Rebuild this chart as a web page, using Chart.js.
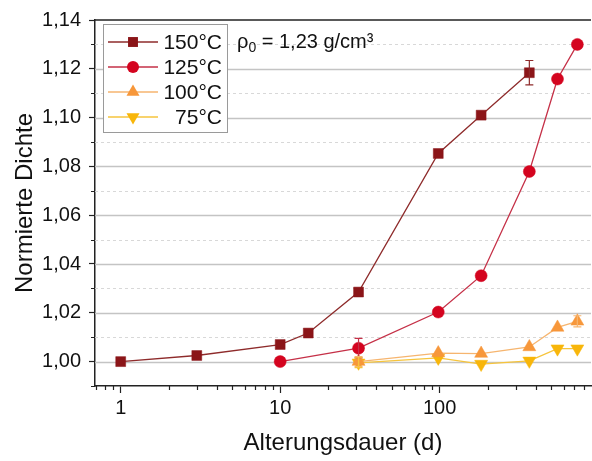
<!DOCTYPE html>
<html>
<head>
<meta charset="utf-8">
<script src="https://cdn.jsdelivr.net/npm/chart.js@4/dist/chart.umd.min.js"></script>
<style>
  html, body { margin: 0; background: #fff; }
  #wrap { width: 592px; height: 461px; }
</style>
</head>
<body>
<div id="wrap"><canvas id="c"></canvas></div>
<script>
const seriesNames = ["150°C", "125°C", "100°C", "75°C"]

const days150 = [1, 3, 10, 15, 31, 98, 182, 365]
const dens150 = [1.000, 1.0025, 1.007, 1.0117, 1.0285, 1.0853, 1.101, 1.1184]
const err150 = [0, 0, 0, 0, 0, 0, 0, 0.005]

const days125 = [10, 31, 98, 182, 365, 548, 730]
const dens125 = [1.000, 1.0055, 1.0203, 1.0352, 1.0779, 1.1158, 1.130]
const err125 = [0, 0.004, 0, 0, 0, 0, 0]

const days100 = [31, 98, 182, 365, 548, 730]
const dens100 = [1.000, 1.0035, 1.0033, 1.006, 1.014, 1.0165]
const err100 = [0.002, 0, 0, 0, 0, 0.0023]

const days75 = [31, 98, 182, 365, 548, 730]
const dens75 = [0.9995, 1.0015, 0.999, 1.0003, 1.0053, 1.0053]
const err75 = [0.002, 0, 0, 0, 0, 0]

const yTicks = [1.00, 1.02, 1.04, 1.06, 1.08, 1.10, 1.12, 1.14]
const yMinor = [0.99, 1.01, 1.03, 1.05, 1.07, 1.09, 1.11, 1.13]
const xTicks = [1, 10, 100]
const xMinor = [0.7, 0.8, 0.9, 2, 3, 4, 5, 6, 7, 8, 9, 20, 30, 40, 50, 60, 70, 80, 90, 200, 300, 400, 500, 600, 700, 800]

const FONT = "'Liberation Sans', Arial, sans-serif"

const pts = (xs, ys) => xs.map((x, i) => ({ x, y: ys[i] }))

const styles = [
  { line: "#8e2b2b", fill: "#8b1518", shape: "rect", r: 7, rot: 0, err: err150 },
  { line: "#c53047", fill: "#d4041f", shape: "circle", r: 6, rot: 0, err: err125 },
  { line: "#f6b56f", fill: "#f7973a", shape: "triangle", r: 7.5, rot: 0, err: err100 },
  { line: "#f6c43c", fill: "#f8b60a", shape: "triangle", r: 7.5, rot: 180, err: err75 }
]
const allData = [pts(days150, dens150), pts(days125, dens125), pts(days100, dens100), pts(days75, dens75)]

const datasets = allData.map((d, i) => ({
  label: seriesNames[i],
  data: d,
  showLine: true,
  borderColor: styles[i].line,
  borderWidth: 1.3,
  pointStyle: styles[i].shape,
  rotation: styles[i].rot,
  pointRadius: styles[i].r,
  pointBackgroundColor: styles[i].fill,
  pointBorderColor: styles[i].fill,
  pointBorderWidth: 0.5
}))

function marker(ctx, s, x, y) {
  ctx.fillStyle = s.fill
  ctx.beginPath()
  if (s.shape === "rect") {
    const h = s.r * Math.SQRT1_2
    ctx.rect(x - h, y - h, 2 * h, 2 * h)
  } else if (s.shape === "circle") {
    ctx.arc(x, y, s.r, 0, Math.PI * 2)
  } else {
    const dir = s.rot ? -1 : 1
    const r = s.r
    ctx.moveTo(x, y - dir * r)
    ctx.lineTo(x - r * 0.866, y + dir * r * 0.5)
    ctx.lineTo(x + r * 0.866, y + dir * r * 0.5)
    ctx.closePath()
  }
  ctx.fill()
}

const extras = {
  id: "extras",
  beforeDatasetsDraw(chart) {
    const { ctx, chartArea: a, scales: { y } } = chart
    ctx.save()
    for (let k = 100; k < 114; k++) {
      const py = Math.round(y.getPixelForValue(k / 100)) + 0.5
      ctx.beginPath()
      if (k % 2 === 0) {
        ctx.setLineDash([])
        ctx.strokeStyle = "#c4c4c4"
        ctx.lineWidth = 1.4
      } else {
        ctx.setLineDash([3, 3])
        ctx.strokeStyle = "#d8d8d8"
        ctx.lineWidth = 1
      }
      ctx.moveTo(a.left, py)
      ctx.lineTo(a.right, py)
      ctx.stroke()
    }
    ctx.restore()
  },
  afterDatasetsDraw(chart) {
    const { ctx, scales: { x, y } } = chart
    ctx.save()
    ctx.lineWidth = 1.2
    allData.forEach((d, i) => {
      ctx.strokeStyle = styles[i].line
      d.forEach((p, j) => {
        const e = styles[i].err[j]
        if (!e) return
        const px = x.getPixelForValue(p.x)
        const y1 = y.getPixelForValue(p.y + e)
        const y2 = y.getPixelForValue(p.y - e)
        ctx.beginPath()
        ctx.moveTo(px, y1); ctx.lineTo(px, y2)
        ctx.moveTo(px - 4, y1); ctx.lineTo(px + 4, y1)
        ctx.moveTo(px - 4, y2); ctx.lineTo(px + 4, y2)
        ctx.stroke()
      })
    })
    ctx.restore()
  },
  afterDraw(chart) {
    const { ctx, chartArea: a, scales: { x, y } } = chart
    ctx.save()
    // top frame
    ctx.strokeStyle = "#222"
    ctx.lineWidth = 1.5
    ctx.beginPath()
    ctx.moveTo(a.left, a.top)
    ctx.lineTo(a.right, a.top)
    ctx.stroke()
    // minor ticks
    ctx.lineWidth = 1.2
    ctx.beginPath()
    xMinor.forEach(v => {
      const px = Math.round(x.getPixelForValue(v)) + 0.5
      ctx.moveTo(px, a.bottom)
      ctx.lineTo(px, a.bottom + 4)
    })
    yMinor.forEach(v => {
      const py = Math.round(y.getPixelForValue(v)) + 0.5
      ctx.moveTo(a.left, py)
      ctx.lineTo(a.left - 4, py)
    })
    ctx.stroke()

    // legend
    const lx = 103, ly = 24, lw = 124, lh = 108
    ctx.fillStyle = "#fff"
    ctx.fillRect(lx, ly, lw, lh)
    ctx.strokeStyle = "#9a9a9a"
    ctx.lineWidth = 1
    ctx.strokeRect(lx + 0.5, ly + 0.5, lw, lh)
    ctx.font = "21px " + FONT
    ctx.textAlign = "right"
    ctx.textBaseline = "middle"
    seriesNames.forEach((name, i) => {
      const ry = ly + 18 + i * 25
      ctx.strokeStyle = styles[i].line
      ctx.lineWidth = 1.3
      ctx.beginPath()
      ctx.moveTo(lx + 5, ry)
      ctx.lineTo(lx + 55, ry)
      ctx.stroke()
      marker(ctx, styles[i], lx + 30, ry)
      ctx.fillStyle = "#111"
      ctx.fillText(name, lx + lw - 5, ry + 1)
    })

    // density annotation
    ctx.fillStyle = "#111"
    ctx.textAlign = "left"
    ctx.textBaseline = "alphabetic"
    ctx.font = "20px " + FONT
    let tx = 237
    const ty = 47.5
    ctx.fillText("ρ", tx, ty)
    tx += ctx.measureText("ρ").width
    ctx.font = "14px " + FONT
    ctx.fillText("0", tx, ty + 4.5)
    tx += ctx.measureText("0").width
    ctx.font = "20px " + FONT
    ctx.fillText(" = 1,23 g/cm³", tx, ty)
    ctx.restore()
  }
}

new Chart(document.getElementById("c"), {
  type: "scatter",
  data: { datasets },
  options: {
    responsive: true,
    maintainAspectRatio: false,
    animation: false,
    layout: { autoPadding: false, padding: { top: 20, right: 1, left: 0, bottom: 0 } },
    plugins: { legend: { display: false }, tooltip: { enabled: false } },
    scales: {
      x: {
        type: "logarithmic",
        min: 0.69,
        max: 889,
        afterBuildTicks: s => { s.ticks = xTicks.map(v => ({ value: v, major: true })) },
        afterFit: s => { s.height = 75; s.paddingLeft = 0; s.paddingRight = 0 },
        ticks: {
          autoSkip: false,
          maxRotation: 0,
          color: "#111",
          padding: 3,
          font: { family: FONT, size: 20 },
          callback: v => String(v)
        },
        grid: { drawOnChartArea: false, tickLength: 7, tickColor: "#222", tickWidth: 1.2 },
        border: { color: "#222", width: 1.5 },
        title: {
          display: true,
          text: "Alterungsdauer (d)",
          color: "#111",
          font: { family: FONT, size: 24 },
          padding: { top: 3, bottom: 3 }
        }
      },
      y: {
        min: 0.99,
        max: 1.14,
        afterBuildTicks: s => { s.ticks = yTicks.map(v => ({ value: v })) },
        afterFit: s => { s.width = 95 },
        ticks: {
          color: "#111",
          padding: 8,
          font: { family: FONT, size: 20 },
          callback: v => v.toFixed(2).replace(".", ",")
        },
        grid: { drawOnChartArea: false, tickLength: 6, tickColor: "#222", tickWidth: 1.2 },
        border: { color: "#222", width: 1.5 },
        title: {
          display: true,
          text: "Normierte Dichte",
          color: "#111",
          font: { family: FONT, size: 24 },
          padding: { top: 11, bottom: 11 }
        }
      }
    }
  },
  plugins: [extras]
})
</script>
</body>
</html>
